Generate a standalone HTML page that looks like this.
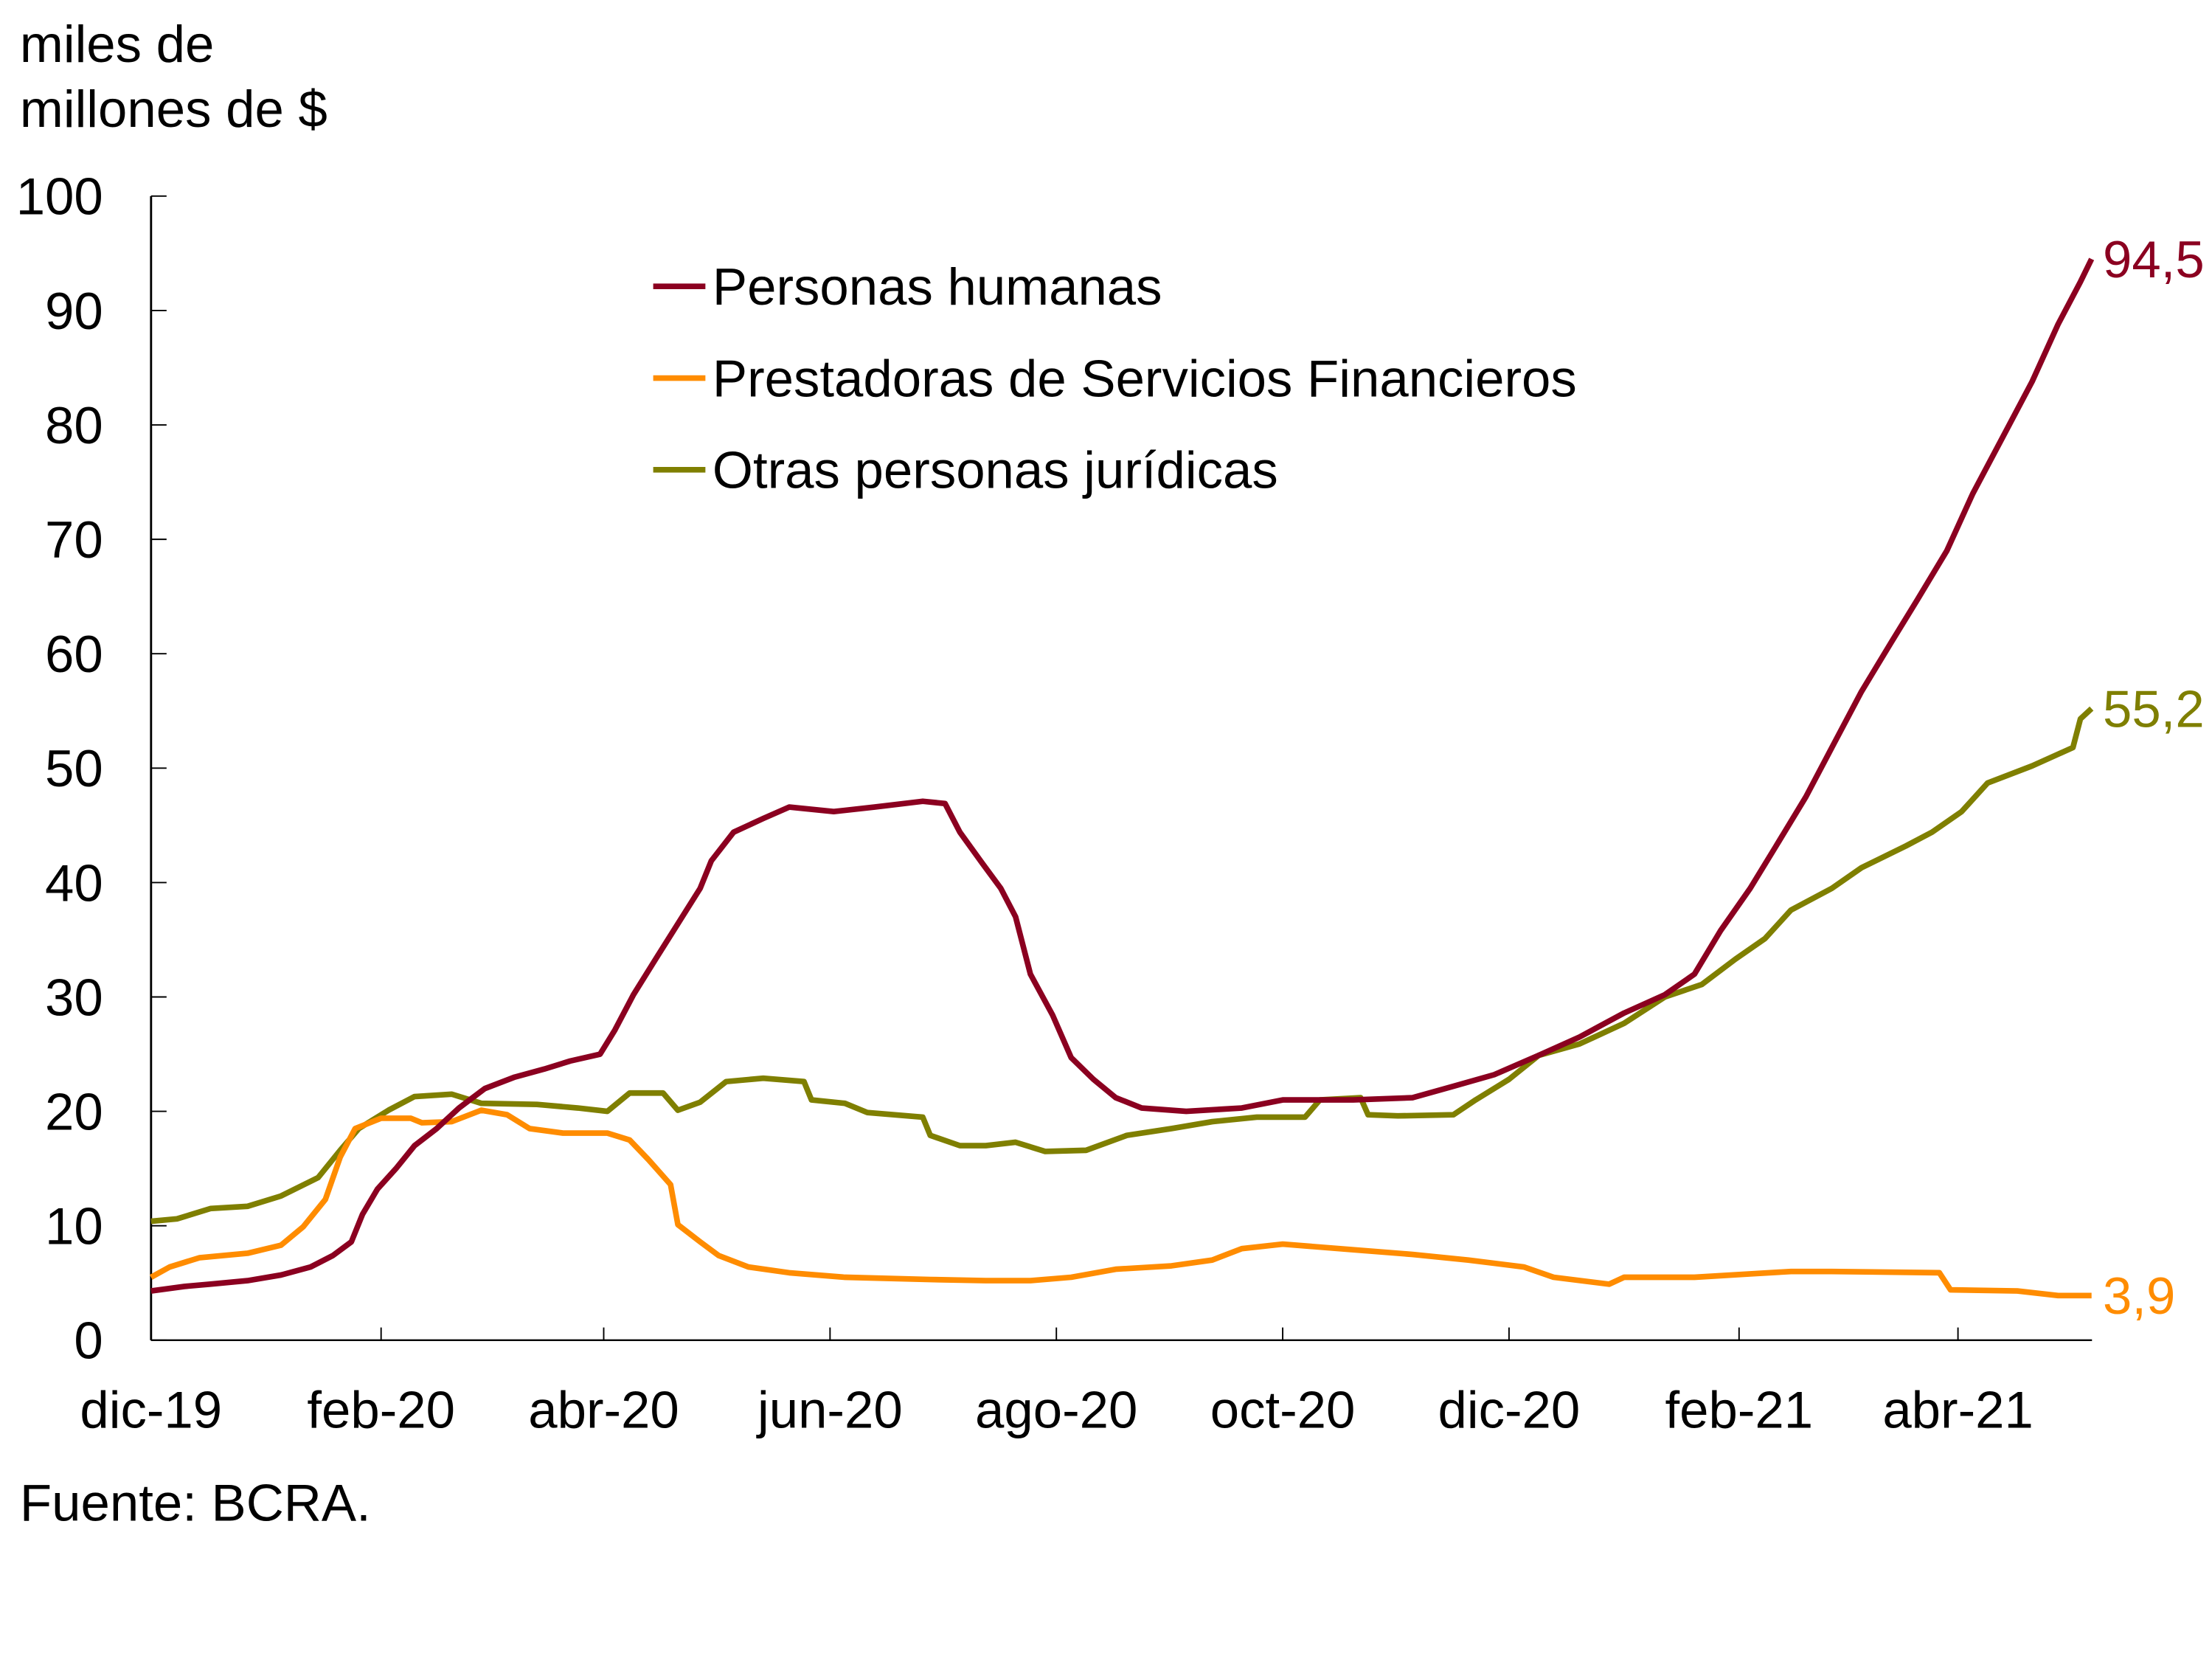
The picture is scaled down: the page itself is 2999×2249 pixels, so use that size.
<!DOCTYPE html>
<html><head><meta charset="utf-8"><style>
html,body{margin:0;padding:0;background:#fff;}
svg{display:block;font-family:"Liberation Sans",sans-serif;}
</style></head><body>
<svg id="chart" width="2999" height="2249" viewBox="0 0 1568 1176" xmlns="http://www.w3.org/2000/svg">
<text x="14" y="44" font-size="37">miles de</text>
<text x="14" y="90" font-size="37">millones de $</text>
<g id="axes"></g>
<g id="series"></g>
<g>
<line x1="463" y1="203" x2="500" y2="203" stroke="#8B0020" stroke-width="4"/>
<text x="505" y="216" font-size="37">Personas humanas</text>
<line x1="463" y1="268" x2="500" y2="268" stroke="#FF8C00" stroke-width="4"/>
<text x="505" y="281" font-size="37">Prestadoras de Servicios Financieros</text>
<line x1="463" y1="333" x2="500" y2="333" stroke="#7F7F00" stroke-width="4"/>
<text x="505" y="346" font-size="37">Otras personas jurídicas</text>
</g>
<text x="14" y="1078" font-size="37">Fuente: BCRA.</text>
</svg>
<script>
const yTicks=[0,10,20,30,40,50,60,70,80,90,100];
const xTickLabels=["dic-19","feb-20","abr-20","jun-20","ago-20","oct-20","dic-20","feb-21","abr-21"];
const xTickDays=[0,62,122,183,244,305,366,428,487];
const phDays=[0,9,16,26,35,43,49,54,57,61,66,71,77,83,90,98,106,113,121,125,130,136,142,148,151,157,165,172,184,195,208,214,218,224,229,233,237,243,248,254,260,267,279,294,305,324,340,351,362,374,385,397,408,416,423,431,438,446,453,461,469,476,484,491,499,507,514,520,523];
const phVals=[4.3,4.7,4.9,5.2,5.7,6.4,7.4,8.6,11,13.2,15,17,18.5,20.3,22,23,23.7,24.4,25,27.1,30.2,33.3,36.4,39.5,41.9,44.4,45.6,46.6,46.2,46.6,47.1,46.9,44.4,41.7,39.5,37,32,28.4,24.7,22.8,21.2,20.3,20,20.3,21,21,21.2,22.2,23.2,24.9,26.5,28.6,30.2,32,35.8,39.5,43.2,47.5,51.8,56.7,61,64.7,69,74,78.9,83.8,88.8,92.5,94.5];
const psfDays=[0,5,13,26,35,41,47,51,55,62,70,73,81,89,96,102,111,123,129,134,140,142,148,153,161,172,187,210,225,237,248,260,275,286,294,305,324,340,355,370,378,393,397,416,431,442,453,482,485,503,514,523];
const psfVals=[5.5,6.4,7.2,7.6,8.3,9.9,12.3,16,18.5,19.4,19.4,19,19.1,20.1,19.7,18.5,18.1,18.1,17.5,15.8,13.6,10.1,8.6,7.4,6.4,5.9,5.5,5.3,5.2,5.2,5.5,6.2,6.5,7,8,8.4,7.9,7.5,7,6.4,5.5,4.9,5.5,5.5,5.8,6,6,5.9,4.4,4.3,3.9,3.9];
const opjDays=[0,7,16,26,35,45,51,56,64,71,81,89,104,115,123,129,138,142,148,155,165,176,178,187,193,208,210,218,225,233,241,252,263,275,286,298,311,315,326,328,336,351,357,366,374,385,397,408,418,427,435,442,453,461,473,480,488,495,507,518,520,523];
const opjVals=[10.4,10.6,11.5,11.7,12.6,14.2,16.6,18.5,20.1,21.3,21.5,20.7,20.6,20.3,20,21.6,21.6,20.1,20.8,22.6,22.9,22.6,21,20.7,19.9,19.5,17.9,17,17,17.3,16.5,16.6,17.9,18.5,19.1,19.5,19.5,21,21.2,19.7,19.6,19.7,21,22.8,24.9,25.9,27.7,30,31.1,33.3,35.1,37.6,39.5,41.3,43.2,44.4,46.2,48.7,50.2,51.8,54.3,55.2];

const NS="http://www.w3.org/2000/svg";
const X0=107,PXD=(1388-107)/487,Y0=950,PXV=(950-139)/100;
function xs(d){return X0+d*PXD;}
function ys(v){return Y0-v*PXV;}
function mk(tag,attrs,parent){const e=document.createElementNS(NS,tag);for(const k in attrs)e.setAttribute(k,attrs[k]);parent.appendChild(e);return e;}
const axes=document.getElementById('axes');
let yl=mk('line',{x1:X0,y1:ys(0),x2:X0,y2:ys(100),stroke:'#000','stroke-width':1.5},axes);


let xl=mk('line',{x1:X0,y1:Y0,x2:1483,y2:Y0,stroke:'#000','stroke-width':1.2},axes);


yTicks.forEach(v=>{
 let t=mk('line',{x1:X0,y1:ys(v),x2:X0+11,y2:ys(v),stroke:'#000','stroke-width':1},axes);
 
 
 let l=mk('text',{x:73,y:ys(v)+13,'font-size':37,'text-anchor':'end'},axes);
 l.textContent=v;
 
 
});
xTickDays.forEach((d,i)=>{
 let t=mk('line',{x1:xs(d),y1:Y0,x2:xs(d),y2:Y0-9,stroke:'#000','stroke-width':1},axes);
 
 
 let l=mk('text',{x:xs(d),y:1012,'font-size':37,'text-anchor':'middle'},axes);
 l.textContent=xTickLabels[i];
 
 
});
const series=document.getElementById('series');
function draw(days,vals,color,name){
 const pts=days.map((d,i)=>xs(d).toFixed(1)+','+ys(vals[i]).toFixed(1)).join(' ');
 let p=mk('polyline',{points:pts,fill:'none',stroke:color,'stroke-width':4,'stroke-linejoin':'round'},series);
 
 
 const last=vals[vals.length-1];
 let l=mk('text',{x:xs(days[days.length-1])+8,y:ys(last)+13,'font-size':37,fill:color},series);
 l.textContent=String(last).replace('.',',');
 
 
}
draw(opjDays,opjVals,'#7F7F00','otras-personas');
draw(psfDays,psfVals,'#FF8C00','prestadoras');
draw(phDays,phVals,'#8B0020','personas-humanas');
</script>
</body></html>
